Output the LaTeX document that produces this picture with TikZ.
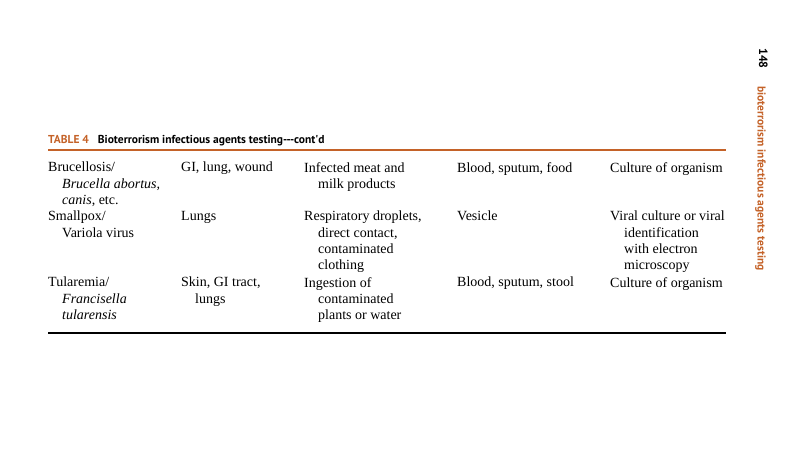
\documentclass[tikz,border=0pt]{standalone}
\usepackage{fontspec}
\setmainfont{Liberation Serif}
\newfontfamily\headfont{PT Sans}
\usetikzlibrary{positioning}
\definecolor{clrHead}{RGB}{196,98,40}
\tikzstyle{cell}=[anchor=north west, inner sep=0pt, align=left, font=\fontsize{14}{16.3}\selectfont]
\tikzstyle{rule}=[line width=1.1pt]
\begin{document}
\begin{tikzpicture}[x=1pt,y=-1pt]
		\useasboundingbox (0,0) rectangle (800,475) ;

		% title and rules
		\node[anchor=base west, inner sep=0pt, font=\headfont\fontsize{11.5}{13}\selectfont] (T) at (48,143) {\textcolor{clrHead}{\textbf{TABLE 4}}\hspace{9pt}\textbf{Bioterrorism infectious agents testing---cont'd}} ;
		\coordinate (R1a) at (48,150) ; \coordinate (R1b) at (726,150) ;
		\draw[rule, clrHead, line width=1.8pt] (R1a) -- (R1b) ;
		\coordinate (R2a) at (48,333) ; \coordinate (R2b) at (726,333) ;
		\draw[rule] (R2a) -- (R2b) ;

		% row 1
		\node[cell] (A1) at (48,162) {Brucellosis/\\\hspace{14pt}\textit{Brucella abortus,}\\\hspace{14pt}\textit{canis}, etc.} ;
		\node[cell] (B1) at (181,162) {GI, lung, wound} ;
		\node[cell] (C1) at (304,162) {Infected meat and\\\hspace{14pt}milk products} ;
		\node[cell] (D1) at (457,162) {Blood, sputum, food} ;
		\node[cell] (E1) at (610,162) {Culture of organism} ;

		% row 2
		\node[cell] (A2) at (48,211) {Smallpox/\\\hspace{14pt}Variola virus} ;
		\node[cell] (B2) at (181,211) {Lungs} ;
		\node[cell] (C2) at (304,211) {Respiratory droplets,\\\hspace{14pt}direct contact,\\\hspace{14pt}contaminated\\\hspace{14pt}clothing} ;
		\node[cell] (D2) at (457,211) {Vesicle} ;
		\node[cell] (E2) at (610,211) {Viral culture or viral\\\hspace{14pt}identification\\\hspace{14pt}with electron\\\hspace{14pt}microscopy} ;

		% row 3
		\node[cell] (A3) at (48,277) {Tularemia/\\\hspace{14pt}\textit{Francisella}\\\hspace{14pt}\textit{tularensis}} ;
		\node[cell] (B3) at (181,277) {Skin, GI tract,\\\hspace{14pt}lungs} ;
		\node[cell] (C3) at (304,277) {Ingestion of\\\hspace{14pt}contaminated\\\hspace{14pt}plants or water} ;
		\node[cell] (D3) at (457,277) {Blood, sputum, stool} ;
		\node[cell] (E3) at (610,277) {Culture of organism} ;

		% running head
		\node[anchor=north west, rotate=-90, inner sep=0pt, font=\headfont\bfseries\fontsize{12}{14}\selectfont] (P) at (768,48) {148} ;
		\node[anchor=north west, rotate=-90, inner sep=0pt, font=\headfont\bfseries\fontsize{11.5}{13}\selectfont, text=clrHead] (H) at (766,86) {bioterrorism infectious agents testing} ;
\end{tikzpicture}
\end{document}
